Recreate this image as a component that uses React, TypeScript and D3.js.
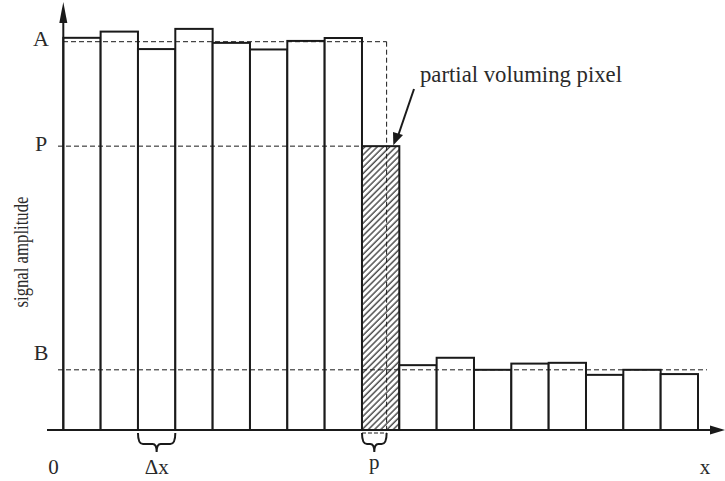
import React from "react";
import * as d3 from "d3";

// Pixel values along the profile (amplitude units, A = 100)
const objectValues = [101.0, 102.6, 98.1, 103.3, 99.7, 98.0, 100.2, 100.95];
const partialValue = 73.1;
const backgroundValues = [16.7, 18.6, 15.5, 17.1, 17.3, 14.2, 15.5, 14.4];
const levelA = 100;
const levelP = 73.1;
const levelB = 15.5;
// True edge position, in pixel units along x
const edgePosition = 8.66;
const levelLabels = [
  { text: "A", value: levelA, dy: -3 },
  { text: "P", value: levelP, dy: -3 },
  { text: "B", value: levelB, dy: -17 },
];

const W = 725;
const H = 481;
const FONT = "'Liberation Serif', 'Times New Roman', serif";

export default function App() {
  const values = [...objectValues, partialValue, ...backgroundValues];
  const n = values.length;
  const x = d3.scaleLinear().domain([0, n]).range([63.3, 698]);
  const y = d3.scaleLinear().domain([0, 100]).range([430, 41.7]);
  const base = y(0);
  const partialIndex = objectValues.length;
  const xEdge = x(edgePosition);
  const stroke = "#1a1a1a";
  const textColor = "#2a2a2a";
  const dash = "5,3";

  const brace = (x0: number, x1: number, top: number) => {
    const xm = (x0 + x1) / 2;
    const mid = top + 11;
    const tip = top + 19;
    const path = d3.path();
    path.moveTo(x0, top);
    path.quadraticCurveTo(x0, mid, x0 + 5, mid);
    path.lineTo(xm - 4, mid);
    path.quadraticCurveTo(xm, mid, xm, tip);
    path.quadraticCurveTo(xm, mid, xm + 4, mid);
    path.lineTo(x1 - 5, mid);
    path.quadraticCurveTo(x1, mid, x1, top);
    return path.toString();
  };

  return (
    <svg
      width={W}
      height={H}
      viewBox={`0 0 ${W} ${H}`}
      style={{ position: "absolute", left: 0, top: 0, background: "#fff" }}
    >
      <defs>
        <pattern
          id="hatch"
          patternUnits="userSpaceOnUse"
          width={4.4}
          height={4.4}
          patternTransform="rotate(45)"
        >
          <rect width={4.4} height={4.4} fill="#fff" />
          <line x1={1} y1={0} x2={1} y2={4.4} stroke="#444" strokeWidth={1.4} />
        </pattern>
      </defs>

      {/* pixel bars */}
      {values.map((v, i) => (
        <rect
          key={i}
          x={x(i)}
          y={y(v)}
          width={x(i + 1) - x(i)}
          height={base - y(v)}
          fill={i === partialIndex ? "url(#hatch)" : "#fff"}
          stroke={stroke}
          strokeWidth={2}
        />
      ))}

      {/* reference levels */}
      <line x1={63} x2={xEdge} y1={y(levelA)} y2={y(levelA)} stroke={stroke} strokeWidth={1} strokeDasharray={dash} />
      <line x1={xEdge} x2={xEdge} y1={y(levelA)} y2={base} stroke={stroke} strokeWidth={1} strokeDasharray={dash} />
      <line x1={58} x2={x(partialIndex)} y1={y(levelP)} y2={y(levelP)} stroke={stroke} strokeWidth={1} strokeDasharray={dash} />
      <line x1={58} x2={707} y1={y(levelB)} y2={y(levelB)} stroke={stroke} strokeWidth={1} strokeDasharray={dash} />

      {/* axes */}
      <line x1={47} x2={714} y1={base} y2={base} stroke={stroke} strokeWidth={2} />
      <polygon points={`725,${base} 710,${base - 4.5} 710,${base + 4.5}`} fill={stroke} />
      <line x1={x(0)} x2={x(0)} y1={base} y2={16} stroke={stroke} strokeWidth={2} />
      <polygon points={`${x(0)},2 ${x(0) - 4},23 ${x(0) + 4},23`} fill={stroke} />

      {/* level labels */}
      {levelLabels.map((l) => (
        <text
          key={l.text}
          x={41}
          y={y(l.value) + l.dy}
          fontFamily={FONT}
          fontSize={22}
          fill={textColor}
          textAnchor="middle"
          dominantBaseline="central"
        >
          {l.text}
        </text>
      ))}

      <text
        transform={`translate(21,252) rotate(-90)`}
        fontFamily={FONT}
        fontSize={21}
        fill={textColor}
        textAnchor="middle"
        dominantBaseline="central"
        textLength={111}
        lengthAdjust="spacingAndGlyphs"
      >
        signal amplitude
      </text>

      {/* x-axis annotations */}
      <path d={brace(x(2), x(3), 433)} fill="none" stroke={stroke} strokeWidth={2} />
      <line x1={x(partialIndex)} x2={xEdge} y1={433} y2={433} stroke={stroke} strokeWidth={1} strokeDasharray="4,2" />
      <path d={brace(x(partialIndex), xEdge, 433)} fill="none" stroke={stroke} strokeWidth={2} />
      <text x={53.5} y={474} fontFamily={FONT} fontSize={21} fill={textColor} textAnchor="middle">0</text>
      <text x={(x(2) + x(3)) / 2} y={474} fontFamily={FONT} fontSize={21} fill={textColor} textAnchor="middle">Δx</text>
      <text x={(x(partialIndex) + xEdge) / 2} y={469} fontFamily={FONT} fontSize={21} fill={textColor} textAnchor="middle">p</text>
      <text x={705} y={474} fontFamily={FONT} fontSize={21} fill={textColor} textAnchor="middle">x</text>

      {/* callout */}
      <text x={420} y={82} fontFamily={FONT} fontSize={23} fill={textColor} textLength={202} lengthAdjust="spacingAndGlyphs">
        partial voluming pixel
      </text>
      <line x1={414} y1={89} x2={398} y2={136} stroke={stroke} strokeWidth={2} />
      <polygon points={`${x(partialIndex + 1) - 6},${y(levelP) - 1} 393,132 403,135`} fill={stroke} />
    </svg>
  );
}
